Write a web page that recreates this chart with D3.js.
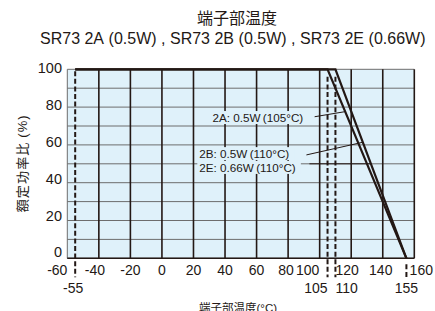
<!DOCTYPE html>
<html>
<head>
<meta charset="utf-8">
<script src="https://cdnjs.cloudflare.com/ajax/libs/d3/7.8.5/d3.min.js"></script>
<style>
  body { margin: 0; background: #fff; }
  text { font-family: "Liberation Sans", Arial, "Noto Sans CJK JP", sans-serif; fill: #231815; }
</style>
</head>
<body>
<svg id="chart" width="435" height="311"></svg>
<script>

// data
var titleMain = "端子部温度";
var titleParts = ["SR73 2A", "(0.5W)", ", SR73 2B", "(0.5W)", ", SR73 2E", "(0.66W)"];
var xTicks = [-60, -40, -20, 0, 20, 40, 60, 80, 100, 120, 140, 160];
var xSubTicks = [-55, 105, 110, 155];
var yTicks = [0, 20, 40, 60, 80, 100];
var curve2A = [[-55, 100], [105, 100], [155, 0]];
var curve2B = [[-55, 100], [110, 100], [155, 0]];
var labels = [
  { text: "2A: 0.5W\u2009(105°C)", x: 32, y: 72.1 },
  { text: "2B: 0.5W\u2009(110°C)", x: 23.7, y: 53 },
  { text: "2E: 0.66W\u2009(110°C)", x: 23.7, y: 45.7 }
];
// leader lines: start point, then the percent where it meets the curve
var leaders = [
  { x0: 96.8, y0: 74.9, curve: curve2A, y1: 77.6 },
  { x0: 91.6, y0: 54.7, curve: curve2B, y1: 61.4 },
  { x0: 93.5, y0: 50, curve: curve2B, y1: 50 }
];

var svg = d3.select("#chart");

var x = d3.scaleLinear().domain([-60, 160]).range([67.3, 414.3]);
var y = d3.scaleLinear().domain([0, 100]).range([258.3, 69.3]);
// tick labels on the left sit on a slightly tighter spacing than the grid
var yLab = d3.scaleLinear().domain([0, 100]).range([252.3, 68.3]);

// x position on the falling part of a curve for a given percent
function curveX(c, p) {
  var a = c[1], b = c[2];
  return a[0] + (b[0] - a[0]) * (a[1] - p) / (a[1] - b[1]);
}

// title
svg.append("text")
  .attr("x", 237).attr("y", 24)
  .attr("text-anchor", "middle")
  .attr("font-size", 16)
  .text(titleMain);

// second line: brackets get extra room, like full width ones
var sub = svg.append("text")
  .attr("x", 40).attr("y", 44)
  .attr("font-size", 16);
var spans = sub.selectAll("tspan")
  .data(titleParts)
  .enter().append("tspan")
  .text(function(d) { return d; });
var gap = Math.max(0, (390 - sub.node().getComputedTextLength()) / 6);
spans.attr("dx", function(d, i) { return i == 0 ? 0 : gap; });

// plot background
svg.append("rect")
  .attr("x", x(-60)).attr("y", y(100))
  .attr("width", x(160) - x(-60)).attr("height", y(0) - y(100))
  .attr("fill", "#dff1fa");

// horizontal grid every 10%
svg.append("g").selectAll("line")
  .data(d3.range(0, 101, 10))
  .enter().append("line")
  .attr("x1", x(-60)).attr("x2", x(160))
  .attr("y1", function(d) { return y(d); })
  .attr("y2", function(d) { return y(d); })
  .attr("stroke", "#6d6d6d")
  .attr("stroke-width", 1);

// vertical grid every 20
svg.append("g").selectAll("line")
  .data(xTicks)
  .enter().append("line")
  .attr("x1", function(d) { return x(d); })
  .attr("x2", function(d) { return x(d); })
  .attr("y1", y(100)).attr("y2", y(0))
  .attr("stroke", function(d) { return d == -60 ? "#6d6d6d" : "#231815"; })
  .attr("stroke-width", function(d) { return d == -60 ? 1 : 1.6; });

// bottom border
svg.append("line")
  .attr("x1", x(-60)).attr("x2", x(160))
  .attr("y1", y(0)).attr("y2", y(0))
  .attr("stroke", "#231815").attr("stroke-width", 1.4);

// dashed temperature markers
var dashTop = { "-55": y(99), "105": y(96), "110": y(96), "155": y(0) + 6 };
svg.append("g").selectAll("line")
  .data(xSubTicks)
  .enter().append("line")
  .attr("x1", function(d) { return x(d); })
  .attr("x2", function(d) { return x(d); })
  .attr("y1", function(d) { return dashTop[d]; })
  .attr("y2", y(0) + 19)
  .attr("stroke", "#231815")
  .attr("stroke-width", 2)
  .attr("stroke-dasharray", "5,2.6");

// label backgrounds hide the grid
labels.forEach(function(l) {
  var t = svg.append("text")
    .attr("x", x(l.x)).attr("y", y(l.y))
    .attr("font-size", 11.7)
    .text(l.text);
  var bb = t.node().getBBox();
  svg.insert("rect", function() { return t.node(); })
    .attr("x", bb.x - 2).attr("y", bb.y)
    .attr("width", bb.width + 7).attr("height", bb.height)
    .attr("fill", "#dff1fa");
});

// leaders
svg.append("g").selectAll("line")
  .data(leaders)
  .enter().append("line")
  .attr("x1", function(d) { return x(d.x0); })
  .attr("y1", function(d) { return y(d.y0); })
  .attr("x2", function(d) { return x(curveX(d.curve, d.y1)); })
  .attr("y2", function(d) { return y(d.y1); })
  .attr("stroke", "#231815")
  .attr("stroke-width", 1);

// derating curves
var line = d3.line().x(function(d) { return x(d[0]); }).y(function(d) { return y(d[1]); });
svg.append("g").selectAll("path")
  .data([curve2A, curve2B])
  .enter().append("path")
  .attr("d", line)
  .attr("fill", "none")
  .attr("stroke", "#231815")
  .attr("stroke-width", 2.2);

// y tick labels
svg.append("g").selectAll("text")
  .data(yTicks)
  .enter().append("text")
  .attr("x", 62)
  .attr("y", function(d) { return yLab(d) + 5; })
  .attr("text-anchor", "end")
  .attr("font-size", 14.5)
  .text(function(d) { return d; });

// x tick labels (some nudged aside for the dashed markers)
var xNudge = { "-60": -10, "-40": -4, "80": -2, "100": -12, "120": -4, "140": -2, "160": 7 };
svg.append("g").selectAll("text")
  .data(xTicks)
  .enter().append("text")
  .attr("x", function(d) { return x(d) + (xNudge[d] || 0); })
  .attr("y", 275)
  .attr("text-anchor", "middle")
  .attr("font-size", 14)
  .text(function(d) { return d; });

svg.append("g").selectAll("text")
  .data(xSubTicks)
  .enter().append("text")
  .attr("x", function(d) { return x(d); })
  .attr("y", 293)
  .attr("text-anchor", function(d) { return d == 105 ? "end" : d == 110 ? "start" : "middle"; })
  .attr("dx", function(d) { return d == -55 ? -2 : 0; })
  .attr("font-size", 14)
  .text(function(d) { return d; });

// axis titles
svg.append("text")
  .attr("x", 238).attr("y", 312)
  .attr("text-anchor", "middle")
  .attr("font-size", 11.5)
  .text("端子部温度(°C)");

svg.append("text")
  .attr("transform", "translate(27," + y(50) + ") rotate(-90)")
  .attr("text-anchor", "middle")
  .attr("font-size", 13)
  .attr("textLength", 97)
  .attr("lengthAdjust", "spacing")
  .text("額定功率比\u2009(%)");

</script>
</body>
</html>
